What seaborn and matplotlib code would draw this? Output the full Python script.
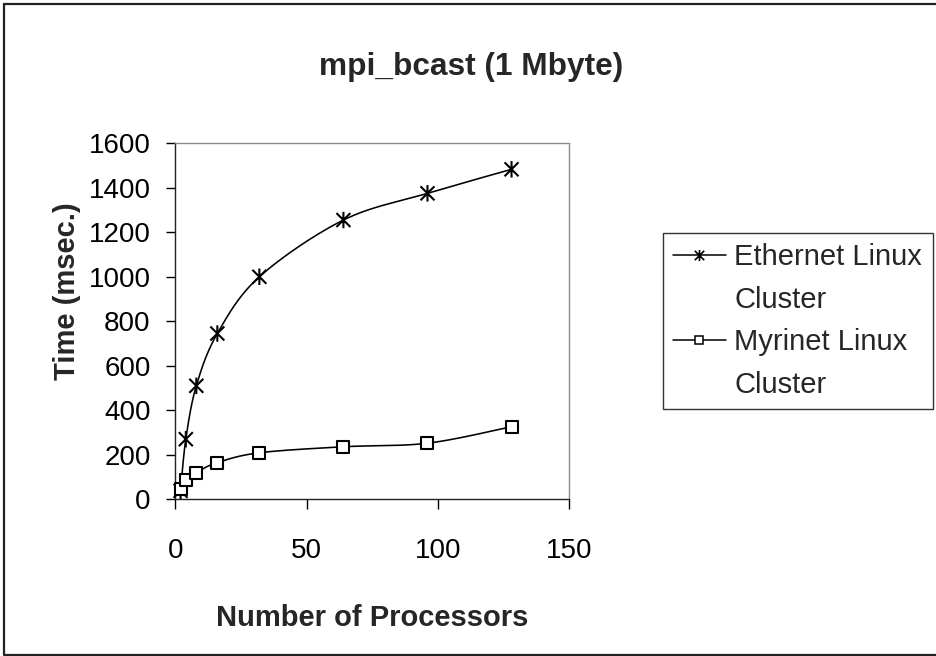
import numpy as np
import matplotlib
matplotlib.use("Agg")
import matplotlib.pyplot as plt
from matplotlib.path import Path
from matplotlib.lines import Line2D
import seaborn as sns

# Broadcast time for a 1 Mbyte message versus processor count
processors = [2, 4, 8, 16, 32, 64, 96, 128]
ethernet_ms = [38, 270, 510, 745, 1000, 1255, 1375, 1483]
myrinet_ms = [45, 86, 120, 165, 209, 236, 252, 326]
ethernet_label = ["Ethernet Linux", "Cluster"]
myrinet_label = ["Myrinet Linux", "Cluster"]
x_ticks = [0, 50, 100, 150]
y_ticks = [0, 200, 400, 600, 800, 1000, 1200, 1400, 1600]

sns.set_style("white")
plt.rcParams["font.family"] = ["Liberation Sans", "DejaVu Sans"]

# asterisk marker: vertical bar plus a diagonal cross
star = Path(
    [(0, -1), (0, 1), (-0.85, -0.85), (0.85, 0.85), (-0.85, 0.85), (0.85, -0.85)],
    [Path.MOVETO, Path.LINETO, Path.MOVETO, Path.LINETO, Path.MOVETO, Path.LINETO],
)


def smooth_curve(xs, ys, n=40):
    """Cubic Bezier smoothing through every point (spreadsheet-style)."""
    p = np.column_stack([xs, ys]).astype(float)
    ext = np.vstack([p[0], p, p[-1]])
    out = []
    t = np.linspace(0, 1, n)[:, None]
    for i in range(len(p) - 1):
        p0, p1, p2, p3 = ext[i], ext[i + 1], ext[i + 2], ext[i + 3]
        c1 = p1 + (p2 - p0) / 6.0
        c2 = p2 - (p3 - p1) / 6.0
        seg = ((1 - t) ** 3) * p1 + 3 * ((1 - t) ** 2) * t * c1 + 3 * (1 - t) * t ** 2 * c2 + t ** 3 * p2
        out.append(seg if i == 0 else seg[1:])
    out = np.vstack(out)
    return out[:, 0], out[:, 1]


fig = plt.figure(figsize=(9.37, 6.56), dpi=100)
ax = fig.add_axes([0.1871, 0.2389, 0.4205, 0.5427])

for ys, mk, sz in [(ethernet_ms, star, 140), (myrinet_ms, "s", 72)]:
    cx, cy = smooth_curve(processors, ys)
    sns.lineplot(x=cx, y=cy, sort=False, estimator=None, color="black",
                 linewidth=1.15, ax=ax)
    sns.scatterplot(x=processors, y=ys, marker=mk, s=sz, ax=ax,
                    facecolor="white" if mk == "s" else "none",
                    edgecolor="black", linewidth=1.5, zorder=3, clip_on=False)

ax.set_xlim(0, 150)
ax.set_ylim(0, 1600)
ax.set_xticks(x_ticks)
ax.set_yticks(y_ticks)
ax.tick_params(axis="both", labelsize=20, direction="out", colors="black",
               width=1)
ax.tick_params(axis="y", length=6.7, pad=11, left=True)
ax.tick_params(axis="x", length=7.2, pad=21, bottom=True)

for side in ["left", "bottom"]:
    ax.spines[side].set_color("#222222")
    ax.spines[side].set_linewidth(1.0)
for side in ["top", "right"]:
    ax.spines[side].set_color("#8c8c8c")
    ax.spines[side].set_linewidth(1.0)

ax.set_xlabel("Number of Processors", fontsize=21, fontweight="bold")
ax.set_ylabel("Time (msec.)", fontsize=21, fontweight="bold")
ax.yaxis.label.set_verticalalignment("center")
ax.xaxis.set_label_coords(0.5, -0.294)
ax.yaxis.set_label_coords(-0.275, 0.585)

fig.text(471 / 937, 1 - 67 / 656, "mpi_bcast (1 Mbyte)", ha="center",
         va="center", fontsize=22.8, fontweight="bold")

handles = [
    Line2D([], [], color="black", lw=1.1, marker=star, markersize=8,
           markeredgewidth=1.2, markerfacecolor="none", markeredgecolor="black"),
    Line2D([], [], linestyle="none"),
    Line2D([], [], color="black", lw=1.1, marker="s", markersize=6,
           markeredgewidth=1.1, markerfacecolor="white", markeredgecolor="black"),
    Line2D([], [], linestyle="none"),
]
labels = ethernet_label + myrinet_label
leg = fig.legend(handles, labels, loc="upper left",
                 bbox_to_anchor=(663 / 937, 1 - 233 / 656),
                 fontsize=21, frameon=True, fancybox=False, shadow=False,
                 handlelength=1.8, handletextpad=0.3, labelspacing=0.5,
                 borderpad=0.35, borderaxespad=0.0)
leg.get_frame().set_edgecolor("black")
leg.get_frame().set_linewidth(1.0)

# outer chart frame
for xs_, ys_ in [([4 / 937, 4 / 937], [2 / 656, 652 / 656]),
                 ([4 / 937, 1.0], [652 / 656, 652 / 656]),
                 ([4 / 937, 1.0], [1.5 / 656, 1.5 / 656])]:
    fig.add_artist(Line2D(xs_, ys_, color="#222222", lw=1.6,
                          transform=fig.transFigure))

fig.savefig("out.png", dpi=100, facecolor="white")
